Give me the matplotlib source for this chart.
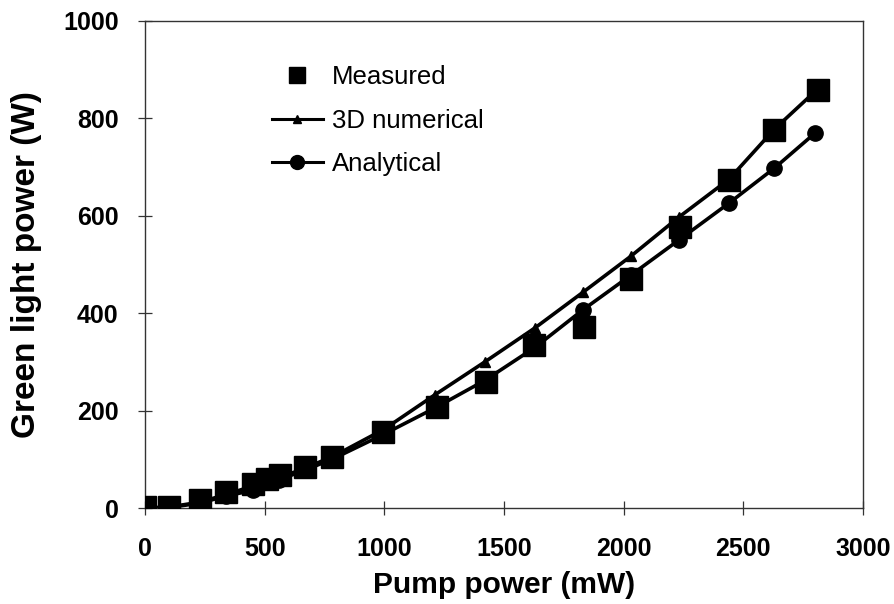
import matplotlib
matplotlib.use("Agg")
import matplotlib.pyplot as plt
from matplotlib.lines import Line2D

plt.rcParams['font.family'] = ['Liberation Sans', 'DejaVu Sans']

# Pump power (mW) and green light power (W)
measured_x = [0, 100, 230, 340, 450, 510, 565, 670, 780, 995, 1220, 1425, 1625, 1834, 2030, 2235, 2440, 2628, 2812]
measured_y = [2, 3, 16, 33, 50, 60, 68, 84, 105, 156, 207, 259, 335, 372, 470, 577, 673, 776, 858]

numerical_x = [0, 100, 230, 340, 450, 560, 670, 790, 1000, 1210, 1420, 1630, 1830, 2030, 2230, 2440, 2630, 2810]
numerical_y = [0, 2, 12, 28, 45, 62, 82, 107, 162, 232, 300, 370, 443, 517, 597, 675, 778, 860]

analytical_x = [0, 100, 230, 340, 450, 560, 670, 790, 1000, 1210, 1420, 1630, 1830, 2030, 2230, 2440, 2630, 2800]
analytical_y = [0, 1, 10, 25, 36, 58, 78, 102, 152, 205, 262, 330, 407, 478, 550, 626, 698, 770]

x_ticks = [0, 500, 1000, 1500, 2000, 2500, 3000]
y_ticks = [0, 200, 400, 600, 800, 1000]

fig = plt.figure(figsize=(8.95, 6.04), dpi=100)
ax = fig.add_axes([145 / 895, 96 / 604, 718 / 895, 487 / 604])

ax.plot(numerical_x, numerical_y, color='black', lw=2.6, marker='^', ms=7, zorder=2)
ax.plot(analytical_x, analytical_y, color='black', lw=2.6, marker='o', ms=11, zorder=2)
ax.plot(measured_x, measured_y, linestyle='none', marker='s', ms=16.5, color='black', zorder=3)

ax.set_xlim(0, 3000)
ax.set_ylim(0, 1000)
ax.set_xticks(x_ticks)
ax.set_yticks(y_ticks)
ax.tick_params(direction='inout', length=10, width=0.9, color='#333333',
               labelsize=18, pad=14)
ax.tick_params(axis='x', pad=16)
for lab in ax.get_xticklabels() + ax.get_yticklabels():
    lab.set_fontweight('bold')
for sp in ax.spines.values():
    sp.set_linewidth(1.0)
    sp.set_color('#333333')

ax.set_xlabel('Pump power (mW)', fontsize=21.5, fontweight='bold')
ax.xaxis.set_label_coords(0.5, -(593 - 508) / 487)
ax.xaxis.label.set_va('baseline')
ax.set_ylabel('Green light power (W)', fontsize=24, fontweight='bold')
ax.yaxis.set_label_coords(-(145 - 27) / 718, 0.5)
ax.yaxis.label.set_va('center')

handles = [
    Line2D([], [], linestyle='none', marker='s', ms=12, color='black'),
    Line2D([], [], color='black', lw=2.2, marker='^', ms=6),
    Line2D([], [], color='black', lw=2.2, marker='o', ms=10),
]
labels = ['Measured', '3D numerical', 'Analytical']
ax.legend(handles, labels, loc='upper left', bbox_to_anchor=(0.162, 0.93),
          frameon=False, fontsize=18.5, handlelength=2.0, handletextpad=0.35,
          labelspacing=0.75, borderaxespad=0)

fig.savefig('out.png', dpi=100, facecolor='white')
